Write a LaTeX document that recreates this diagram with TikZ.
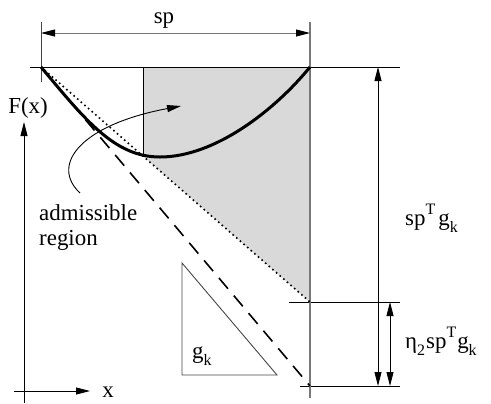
\documentclass[tikz,border=0pt]{standalone}
\usepackage{fontspec}
\setmainfont{Liberation Serif}
\usetikzlibrary{arrows.meta}
\definecolor{lgray}{RGB}{120,120,120}
\definecolor{dgray}{RGB}{70,70,70}
\definecolor{fillgray}{RGB}{217,217,217}
\newcommand\mysup[1]{\raisebox{0.45em}{\fontsize{16}{16}\selectfont #1}}
\newcommand\mysub[1]{\raisebox{-0.32em}{\fontsize{16}{16}\selectfont #1}}
\begin{document}
\begin{tikzpicture}[x=1bp,y=-1bp,
  thinline/.style={line width=0.9bp},
  tipr/.style={-{Triangle[length=14bp,width=7bp,color=black]}},
  tipb/.style={{Triangle[length=14bp,width=7bp,color=black]}-{Triangle[length=14bp,width=7bp,color=black]}},
  lbl/.style={font=\fontsize{23}{25}\selectfont, inner sep=0pt}]
\useasboundingbox (0,0) rectangle (491,403);
% key points
\coordinate (A) at (41,67);
\coordinate (B) at (310,67);
\coordinate (M) at (160,157);
\coordinate (Ct) at (143,67);
\coordinate (C) at (143,156);
\coordinate (D) at (310,302);
\coordinate (E) at (310,386);
% shaded region
\fill[fillgray] (Ct) -- (B) -- (D) -- (C) -- cycle;
\draw[thinline] (Ct) -- (C);
% reference lines
\coordinate (h1a) at (30,67);  \coordinate (h1b) at (400,67);
\coordinate (h2a) at (289,302); \coordinate (h2b) at (400,302);
\coordinate (h3a) at (300,386); \coordinate (h3b) at (400,386);
\draw[thinline] (h1a) -- (h1b);
\draw[thinline] (h2a) -- (h2b);
\draw[thinline] (h3a) -- (h3b);
\coordinate (vla) at (41,22); \coordinate (vlb) at (41,82);
\coordinate (vra) at (310,22); \coordinate (vrb) at (310,398);
\draw[thinline, dgray] (vla) -- (vlb);
\draw[line width=1.8bp, lgray] (vra) -- (vrb);
% sp dimension
\coordinate (spa) at (41,33); \coordinate (spb) at (310,33);
\draw[thinline, lgray, tipb] (spa) -- (spb);
\node[lbl, anchor=base] (splbl) at (164,23) {sp};
% vertical dimensions
\coordinate (v1a) at (378,67); \coordinate (v1b) at (378,386);
\coordinate (v2a) at (390,302); \coordinate (v2b) at (390,386);
\draw[thinline, tipb] (v1a) -- (v1b);
\draw[thinline, tipb] (v2a) -- (v2b);
\node[lbl, anchor=base west] (l1) at (405,225) {sp\mysup{T}\kern3bp g\mysub{k}};
\node[lbl, anchor=base west] (l2) at (405,348) {η\mysub{2}\kern1bp sp\mysup{T}\kern1bp g\mysub{k}};
% dotted and dashed lines
\draw[line width=1.6bp, dash pattern=on 1.6bp off 3.2bp] (A) -- (D);
\draw[line width=1.6bp, dash pattern=on 14bp off 9bp] (A) -- (E);
% function curve
\draw[line width=3bp] (A) .. controls (86,121) and (115,157) .. (M)
  .. controls (215,157) and (275,110) .. (B);
% admissible region arrow
\coordinate (ar0) at (80,193); \coordinate (ar1) at (181,106);
\draw[thinline, tipr] (ar0) .. controls (50,165) and (80,125) .. (ar1);
\node[lbl, anchor=base west] (adm) at (39,220) {admissible};
\node[lbl, anchor=base west] (reg) at (39,245) {region};
% slope triangle
\coordinate (t1) at (182,263); \coordinate (t2) at (182,375); \coordinate (t3) at (277,375);
\draw[thinline, dgray] (t1) -- (t2) -- (t3) -- cycle;
\node[lbl, anchor=base west] (gk) at (192,358) {g\mysub{k}};
% axes
\coordinate (fa) at (24,403); \coordinate (fb) at (24,122);
\coordinate (xa) at (14,391); \coordinate (xb) at (90,391);
\draw[thinline, tipr] (fa) -- (fb);
\draw[thinline, tipr] (xa) -- (xb);
\node[lbl, anchor=base] (Flbl) at (28,113) {F(x)};
\node[lbl, anchor=base] (xlbl) at (108,397) {x};
\end{tikzpicture}
\end{document}
